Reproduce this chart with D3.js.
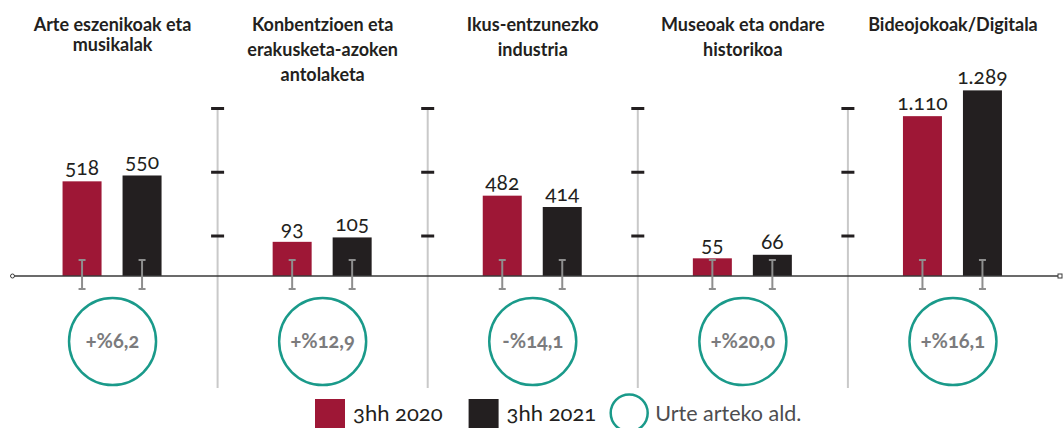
<!DOCTYPE html>
<html>
<head>
<meta charset="utf-8">
<script src="https://cdn.jsdelivr.net/npm/d3@7"></script>
<style>
  body { margin: 0; background: #fff; }
  svg { display: block; font-family: Lato, "Noto Sans", sans-serif; }
  .onum { font-variant-numeric: oldstyle-nums; font-feature-settings: "onum" 1; }
</style>
</head>
<body>
<div id="viz_container"></div>
<script>
// Data
const categories = [
    "Arte eszenikoak eta\nmusikalak",
    "Konbentzioen eta\nerakusketa-azoken\nantolaketa",
    "Ikus-entzunezko\nindustria",
    "Museoak eta ondare\nhistorikoa",
    "Bideojokoak/Digitala"
];
const series = ["3hh 2020", "3hh 2021"];
const values2020 = [518, 93, 482, 55, 1110];
const values2021 = [550, 105, 414, 66, 1289];
const yearChange = [6.2, 12.9, -14.1, 20.0, 16.1];
// each panel has its own value scale in the original
const panelScaleMax = [985, 490, 1080, 560, 1250];
const legendChange = "Urte arteko ald.";

var width = 1064, height = 428;
var baseY = 276, barTop = 96;

var colors = { "3hh 2020": "#9e1736", "3hh 2021": "#231f20" };
var teal = "#1a9a8a";

var locale = d3.formatLocale({ decimal: ",", thousands: ".", grouping: [3], currency: ["", "€"] });
var fmtValue = locale.format(",d");
var fmtChange = function(v) { return (v < 0 ? "-%" : "+%") + locale.format(".1f")(Math.abs(v)); };

var svg = d3.select("#viz_container").append("svg")
    .attr("width", width)
    .attr("height", height);

// panel positions
var x = d3.scaleBand().domain(categories).range([7.5, 1058]);
var xInner = d3.scaleBand().domain(series).range([-50, 49]).paddingInner(0.35);
var yScales = panelScaleMax.map(function(m) {
    return d3.scaleLinear().domain([0, m]).range([baseY, barTop]);
});
var center = function(c) { return x(c) + x.bandwidth() / 2; };

// separators with decorative tick marks
var tickY = d3.scaleLinear().domain([0, 2]).range([236, 108.5]);
var seps = categories.slice(1);
svg.selectAll(".sep")
    .data(seps)
  .enter().append("line")
    .attr("class", "sep")
    .attr("x1", function(d) { return x(d); })
    .attr("x2", function(d) { return x(d); })
    .attr("y1", 107)
    .attr("y2", 388)
    .style("stroke", "#c9c9c9")
    .style("stroke-width", 2);

seps.forEach(function(d) {
    svg.selectAll(null)
        .data([0, 1, 2])
      .enter().append("line")
        .attr("x1", x(d) - 6.5)
        .attr("x2", x(d) + 6.5)
        .attr("y1", function(t) { return tickY(t); })
        .attr("y2", function(t) { return tickY(t); })
        .style("stroke", "#231f20")
        .style("stroke-width", 3);
});

// titles
categories.forEach(function(c, i) {
    var lead = i === 0 ? 20 : 25;
    var t = svg.append("text")
        .attr("x", center(c))
        .attr("y", 31)
        .style("text-anchor", "middle")
        .style("font-weight", "bold")
        .style("font-size", "18px")
        .style("fill", "#231f20");
    c.split("\n").forEach(function(line, j) {
        t.append("tspan")
            .attr("x", center(c))
            .attr("y", 31 + j * lead)
            .text(line);
    });
});

// bars
var barData = [];
categories.forEach(function(c, i) {
    barData.push({ cat: c, idx: i, s: series[0], v: values2020[i] });
    barData.push({ cat: c, idx: i, s: series[1], v: values2021[i] });
});

svg.selectAll(".bar")
    .data(barData)
  .enter().append("rect")
    .attr("class", "bar")
    .attr("x", function(d) { return center(d.cat) + xInner(d.s); })
    .attr("width", xInner.bandwidth())
    .attr("y", function(d) { return yScales[d.idx](d.v); })
    .attr("height", function(d) { return baseY - yScales[d.idx](d.v); })
    .style("fill", function(d) { return colors[d.s]; });

// value labels
svg.selectAll(".val")
    .data(barData)
  .enter().append("text")
    .attr("class", "val onum")
    .attr("x", function(d) { return center(d.cat) + xInner(d.s) + xInner.bandwidth() / 2; })
    .attr("y", function(d) { return yScales[d.idx](d.v) - 6; })
    .style("text-anchor", "middle")
    .style("font-size", "21px")
    .style("fill", "#231f20")
    .text(function(d) { return fmtValue(d.v); });

// baseline
svg.append("line")
    .attr("x1", 13).attr("x2", 1060)
    .attr("y1", baseY).attr("y2", baseY)
    .style("stroke", "#3a3a3a")
    .style("stroke-width", 1.5);
svg.append("circle")
    .attr("cx", 12.5).attr("cy", baseY).attr("r", 2)
    .style("fill", "#fff").style("stroke", "#3a3a3a").style("stroke-width", 1);
svg.append("rect")
    .attr("x", 1058).attr("y", baseY - 2).attr("width", 4).attr("height", 4)
    .style("fill", "#fff").style("stroke", "#3a3a3a").style("stroke-width", 1);

// whisker marks over each bar
var wg = svg.selectAll(".whisker")
    .data(barData)
  .enter().append("g")
    .attr("class", "whisker")
    .attr("transform", function(d) {
        return "translate(" + (center(d.cat) + xInner(d.s) + xInner.bandwidth() / 2) + ",0)";
    })
    .style("stroke", "#8e8e8e")
    .style("stroke-width", 2);
wg.append("line").attr("x1", 0).attr("x2", 0).attr("y1", baseY - 16).attr("y2", baseY + 13);
wg.append("line").attr("x1", -3.5).attr("x2", 3.5).attr("y1", baseY - 16).attr("y2", baseY - 16);
wg.append("line").attr("x1", -3.5).attr("x2", 3.5).attr("y1", baseY + 13).attr("y2", baseY + 13);

// year-on-year change circles
var cg = svg.selectAll(".chg")
    .data(categories)
  .enter().append("g")
    .attr("class", "chg")
    .attr("transform", function(d) { return "translate(" + center(d) + ",341.5)"; });
cg.append("circle")
    .attr("r", 43.5)
    .style("fill", "#fff")
    .style("stroke", teal)
    .style("stroke-width", 2.5);
cg.append("text")
    .attr("class", "onum")
    .attr("y", 6)
    .style("text-anchor", "middle")
    .style("font-weight", "bold")
    .style("font-size", "20px")
    .style("fill", "#7b7b7d")
    .text(function(d, i) { return fmtChange(yearChange[i]); });

// legend
var lx = 315, ly = 399;
series.forEach(function(s) {
    svg.append("rect")
        .attr("x", lx).attr("y", ly)
        .attr("width", 30).attr("height", 30)
        .style("fill", colors[s]);
    var t = svg.append("text")
        .attr("class", "onum")
        .attr("x", lx + 38).attr("y", ly + 22)
        .style("font-size", "22px")
        .style("fill", "#231f20")
        .text(s);
    lx += 38 + t.node().getComputedTextLength() + 26;
});
lx -= 12;
svg.append("circle")
    .attr("cx", lx + 19).attr("cy", ly + 14).attr("r", 18.5)
    .style("fill", "none")
    .style("stroke", teal)
    .style("stroke-width", 2.5);
svg.append("text")
    .attr("x", lx + 45).attr("y", ly + 22)
    .style("font-size", "21.5px")
    .style("fill", "#4d4d4f")
    .text(legendChange);
</script>
</body>
</html>
